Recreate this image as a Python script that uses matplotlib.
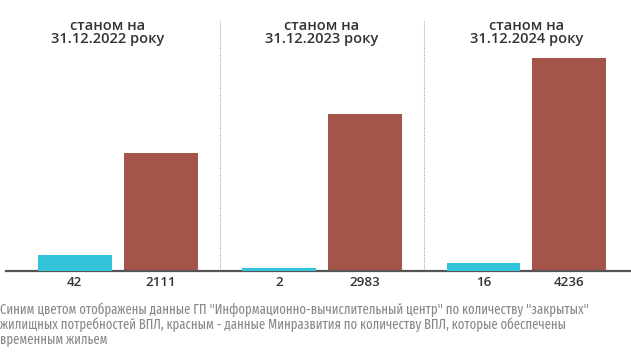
import matplotlib.pyplot as plt
import numpy as np

periods = ["станом на\n31.12.2022 року", "станом на\n31.12.2023 року", "станом на\n31.12.2024 року"]
closed_needs = [42, 2, 16]            # ГП "Інформаційно-обчислювальний центр"
temp_housing = [2111, 2983, 4236]     # Мінрозвитку
caption = ('Синим цветом отображены данные ГП "Информационно-вычислительный центр" по количеству "закрытых"\n'
           'жилищных потребностей ВПЛ, красным - данные Минразвития по количеству ВПЛ, которые обеспечены\n'
           'временным жильем')

cyan = "#33c3da"
red = "#a5544a"
W, H = 631, 363
head_fam = ["Open Sans", "DejaVu Sans"]
cap_fam = ["Fira Sans Extra Condensed", "Fira Sans Condensed", "Roboto", "DejaVu Sans"]

fig = plt.figure(figsize=(W / 100, H / 100), dpi=100)
# axes: baseline at y=270.7px, top at y=58.3px, x from 6px to 631px
ax = fig.add_axes([6 / W, (H - 270.7) / H, 625 / W, 212.4 / H])
ax2 = ax.twinx()

x = np.arange(len(periods))
w = 0.362
off = 0.21

# separate scales for the two series, as in the original infographic
red_lo, red_hi = -530, max(temp_housing)
cy_lo, cy_hi = -7.5, 661.5
ax.set_ylim(red_lo, red_hi)
ax2.set_ylim(cy_lo, cy_hi)
ax.set_xlim(-0.547, 2.512)

ax.bar(x + off, np.array(temp_housing) - red_lo, bottom=red_lo, width=w, color=red)
ax2.bar(x - off, np.array(closed_needs) - cy_lo, bottom=cy_lo, width=w, color=cyan)

for a in (ax, ax2):
    a.set_yticks([])
    for s in a.spines.values():
        s.set_visible(False)
ax.set_xticks([])
ax.spines["bottom"].set_visible(True)
ax.spines["bottom"].set_color("#555555")
ax.spines["bottom"].set_linewidth(1.6)

for xd in [0.5, 1.5]:
    ax.plot([xd, xd], [red_lo, red_hi + 38 / 212.4 * (red_hi - red_lo)], color="#aaaaaa",
            lw=0.8, ls=(0, (1, 1)), clip_on=False)

r = fig.canvas.get_renderer()

def fit(t, target, size):
    # shrink a text if it comes out wider than in the reference
    wpx = t.get_window_extent(r).width
    if wpx > target * 1.03:
        t.set_fontsize(size * target / wpx)

for i in range(len(periods)):
    for xv, v in [(x[i] - off, closed_needs[i]), (x[i] + off, temp_housing[i])]:
        ax.text(xv, -0.055, str(v), transform=ax.get_xaxis_transform(), ha="center",
                va="center", fontsize=9.6, family=head_fam, weight="semibold", color="#333333")

title_x = [108, 322, 527]
for tx, t in zip(title_x, periods):
    fig.text(tx / W, 1 - 32.5 / H, t, ha="center", va="center", fontsize=10.5,
             family=head_fam, weight="semibold", color="#333333", linespacing=0.95)

cap = fig.text(0, 1 - 324.3 / H, caption, ha="left", va="center", fontsize=10.5,
               family=cap_fam, color="#888888", linespacing=1.0)
fit(cap, 595, 10.5)

fig.savefig("out.png", dpi=100)
